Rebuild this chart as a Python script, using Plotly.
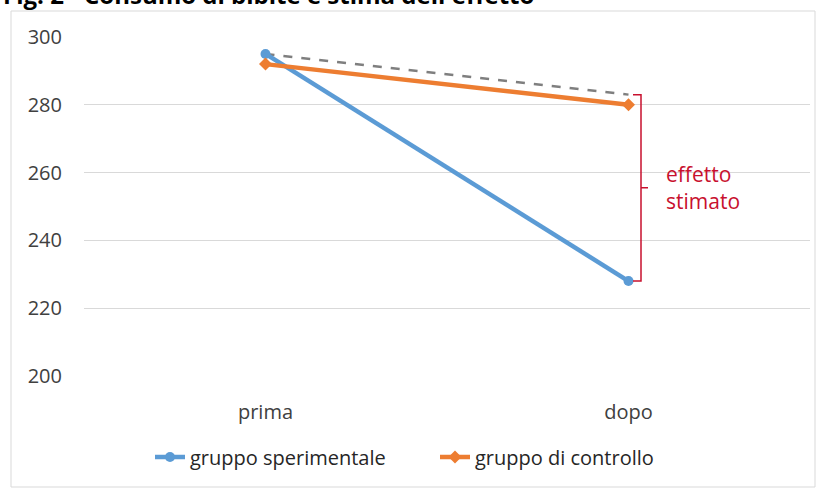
import plotly.graph_objects as go

categories = ["prima", "dopo"]
sperimentale = [295, 228]
controllo = [292, 280]
controfattuale = [295, 283]
y_ticks = [200, 220, 240, 260, 280, 300]

FONT = "'Open Sans', sans-serif"
W, H = 821, 488
L, R, T, B = 84, 11, 37, 112
pw = W - L - R
ph = H - T - B

def px_x(p):
    return (p - L) / pw

def px_y(p):
    return (H - B - p) / ph

fig = go.Figure()
fig.add_trace(go.Scatter(
    x=categories, y=controfattuale, mode="lines",
    line=dict(color="#7F7F7F", width=2.5, dash="dash"),
    showlegend=False, hoverinfo="skip"))
fig.add_trace(go.Scatter(
    x=categories, y=sperimentale, mode="lines+markers", name="gruppo sperimentale",
    line=dict(color="#5B9BD5", width=4.5),
    marker=dict(symbol="circle", size=10, color="#5B9BD5")))
fig.add_trace(go.Scatter(
    x=categories, y=controllo, mode="lines+markers", name="gruppo di controllo",
    line=dict(color="#ED7D31", width=4.5),
    marker=dict(symbol="diamond", size=10, color="#ED7D31")))

red = "#C8102E"
# bracket
top, bot = controfattuale[1], sperimentale[1]
mid = (top + bot) / 2
xa, xb, xc = px_x(633), px_x(641), px_x(648)
fig.add_shape(type="path", xref="paper", yref="y",
              path=f"M {xa},{top} L {xb},{top} L {xb},{bot} L {xa},{bot} M {xb},{mid} L {xc},{mid}",
              line=dict(color=red, width=1.5))
fig.add_annotation(xref="paper", yref="y", x=px_x(664), y=mid, xanchor="left", yanchor="middle",
                   text="effetto<br>stimato", showarrow=False, align="left",
                   font=dict(family=FONT, size=21, color=red))

# chart border
fig.add_shape(type="rect", xref="paper", yref="paper",
              x0=px_x(11), x1=px_x(815), y0=px_y(487), y1=px_y(11),
              line=dict(color="#D9D9D9", width=1), layer="below")

# title (cut off at the top edge, as in the reference)
fig.add_annotation(xref="paper", yref="paper", x=px_x(1), y=px_y(13),
                   xanchor="left", yanchor="bottom", showarrow=False,
                   text="<b>Fig. 2 - Consumo di bibite e stima dell'effetto</b>",
                   font=dict(family=FONT, size=24, color="#000000"))

fig.update_layout(
    width=W, height=H,
    margin=dict(l=L, r=R, t=T, b=B, autoexpand=False),
    paper_bgcolor="white", plot_bgcolor="white",
    font=dict(family=FONT, size=17, color="#404040"),
    showlegend=True,
    legend=dict(orientation="h", x=px_x(150), xanchor="left", y=px_y(457), yanchor="middle",
                font=dict(family=FONT, size=20, color="#262626"),
                entrywidth=240, entrywidthmode="pixels",
                traceorder="normal"),
)
fig.update_xaxes(showgrid=False, showline=False, ticks="", ticklabelstandoff=22,
                 range=[-0.5, 1.5], automargin=False,
                 tickfont=dict(size=20, color="#404040"))
fig.update_yaxes(range=[200, 300], tickvals=y_ticks, showgrid=True, gridcolor="#D9D9D9",
                 gridwidth=1, zeroline=False, showline=False, ticks="", ticklabelstandoff=21,
                 automargin=False,
                 tickfont=dict(size=20, color="#404040"))

fig.write_html("out.html", config={"displayModeBar": False},
               post_script="document.body.style.margin='0';")
